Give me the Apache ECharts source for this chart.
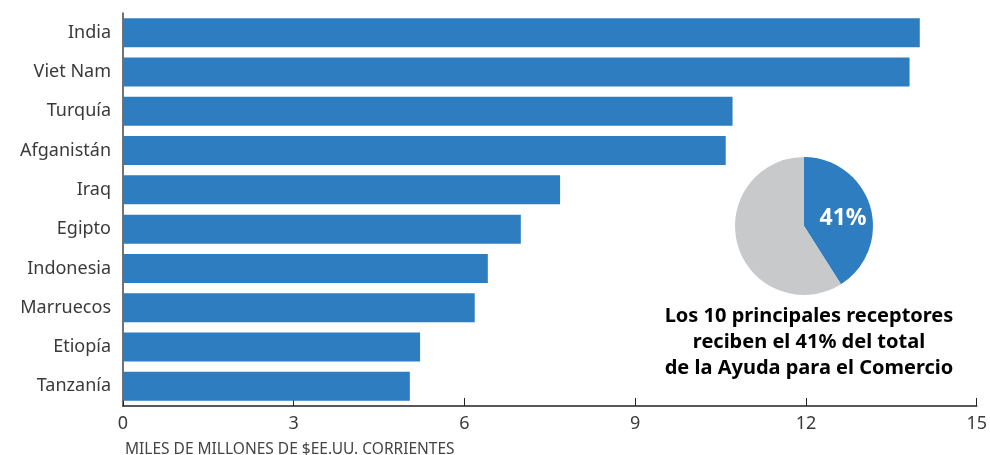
<!DOCTYPE html>
<html>
<head>
<meta charset="utf-8">
<script src="https://cdn.jsdelivr.net/npm/echarts@6/dist/echarts.min.js"></script>
<style>
  html, body { margin: 0; padding: 0; background: #fff; }
  #chart { width: 990px; height: 455px; }
</style>
</head>
<body>
<div id="chart"></div>
<script>
// receptores (de abajo hacia arriba en el eje)
const countries = ['Tanzanía', 'Etiopía', 'Marruecos', 'Indonesia', 'Egipto', 'Iraq', 'Afganistán', 'Turquía', 'Viet Nam', 'India']
// miles de millones de $EE.UU.
const aidValues = [5.04, 5.22, 6.18, 6.41, 6.99, 7.68, 10.59, 10.71, 13.82, 14.0]
const xTicks = [0, 3, 6, 9, 12, 15]
// participación de los 10 principales
const shareNames = ['10 principales', 'Resto']
const shareValues = [41, 59]

const BLUE = '#2e7dc1'
const GREY = '#c8c9cb'
const FONT = 'Noto Sans'

const chart = echarts.init(document.getElementById('chart'))

const option = {
  animation: false,
  textStyle: { fontFamily: FONT },
  title: [
    {
      text: 'MILES DE MILLONES DE $EE.UU. CORRIENTES',
      left: 120,
      top: 437,
      textStyle: { fontFamily: FONT, fontSize: 15.5, fontWeight: 'normal', color: '#444', lineHeight: 16 },
    },
    {
      text: 'Los 10 principales receptores\nreciben el 41% del total\nde la Ayuda para el Comercio',
      left: 804,
      top: 298,
      textAlign: 'center',
      textStyle: { fontFamily: FONT, fontSize: 20, fontWeight: 'bold', color: '#000', lineHeight: 26, align: 'center' },
    },
  ],
  grid: {
    left: 123,
    right: 13,
    top: 13,
    bottom: 49,
  },
  xAxis: {
    type: 'value',
    min: xTicks[0],
    max: xTicks[xTicks.length - 1],
    interval: 3,
    axisLine: { show: true, lineStyle: { color: '#222', width: 1.5 } },
    axisTick: { show: true, inside: true, length: 8, lineStyle: { color: '#222' } },
    axisLabel: { color: '#3a3a3a', fontSize: 18, margin: 9 },
    splitLine: { show: false },
  },
  yAxis: {
    type: 'category',
    data: countries,
    axisLine: { show: true, lineStyle: { color: '#444', width: 1.5 } },
    axisTick: { show: false },
    axisLabel: { color: '#3a3a3a', fontSize: 18, margin: 12, padding: [8, 0, 0, 0] },
  },
  series: [
    {
      name: 'Ayuda',
      type: 'bar',
      data: aidValues,
      barWidth: 29,
      itemStyle: { color: BLUE },
    },
    {
      name: 'Participación',
      type: 'pie',
      center: [804, 226],
      radius: 69,
      startAngle: 90,
      clockwise: true,
      data: shareNames.map((n, i) => ({
        name: n,
        value: shareValues[i],
        itemStyle: { color: i === 0 ? BLUE : GREY },
        label: { show: i === 0 },
      })),
      label: {
        position: 'inside',
        formatter: '{c}%',
        color: '#fff',
        fontSize: 23,
        fontWeight: 'bold',
        fontFamily: FONT,
        offset: [3, 3],
      },
      labelLine: { show: false },
      emphasis: { disabled: true },
    },
  ],
}

chart.setOption(option)
</script>
</body>
</html>
